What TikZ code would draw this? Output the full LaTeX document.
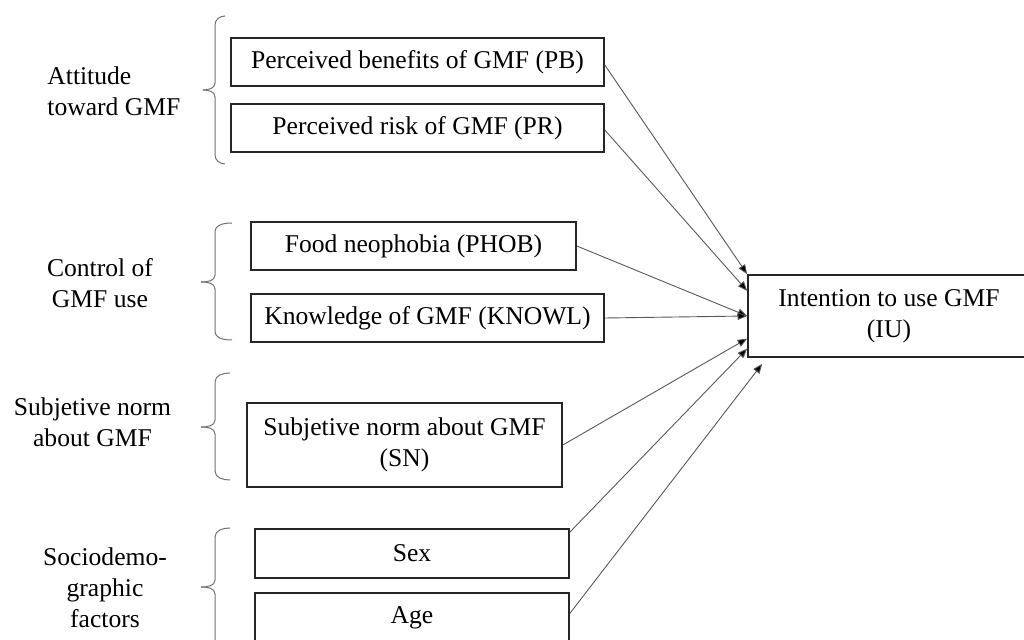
\documentclass[tikz,border=0pt]{standalone}
\usepackage{fontspec}
\setmainfont{Liberation Serif}
\usetikzlibrary{arrows.meta,calc}
\newcommand\gbrace[6]{% tip x, vertical x, end x, top, mid, bottom
  \draw[brc] (#3,#4) to[out=180,in=90] (#2,#4+9) -- (#2,#5-7) to[out=-90,in=0] (#1,#5);
  \draw[brc] (#1,#5) to[out=0,in=90] (#2,#5+7) -- (#2,#6-9) to[out=-90,in=180] (#3,#6);
}
\tikzset{
  txt/.style={font=\fontsize{12.8}{15.5}\selectfont, align=center, inner sep=0pt},
  box/.style={txt, draw=black!85, line width=0.8pt},
  wh/.style 2 args={minimum width=#1*0.5pt, minimum height=#2*0.5pt},
  brc/.style={draw=black!55, line width=0.5pt},
  conn/.style={draw=black!65, line width=0.45pt, -{Triangle[length=4.8pt,width=3.8pt,fill=black]}}
}
\begin{document}
\begin{tikzpicture}[x=0.5pt,y=-0.5pt]
\useasboundingbox (0,0) rectangle (1024,640);
\clip (0,0) rectangle (1024,640);
\fill[white] (0,0) rectangle (1024,640);

% boxes
\node[box, wh={373}{48}] (PB) at (417.5,62) {Perceived benefits of GMF (PB)};
\node[box, wh={373}{48}] (PR) at (417.5,128) {Perceived risk of GMF (PR)};
\node[box, wh={325}{48}] (PHOB) at (413.5,246) {Food neophobia (PHOB)};
\node[box, wh={353}{48}] (KNOWL) at (427.5,318) {Knowledge of GMF (KNOWL)};
\node[box, wh={315}{84}] (SN) at (404.5,445) {Subjetive norm about GMF\\(SN)};
\node[box, wh={314}{49}] (Sex) at (412,553.5) {Sex};
\node[box, wh={314}{49}] (Age) at (412,617.5) {Age};
\node[box, wh={282}{82}] (IU) at (889,316) {};
\node[txt] (IUt) at (889,316) {Intention to use GMF\\(IU)};

% group labels
\node[txt, anchor=west, align=left] (L1) at (47,91) {Attitude\\toward GMF};
\node[txt] (L2) at (100,283) {Control of\\GMF use};
\node[txt] (L3) at (92.5,422) {Subjetive norm\\about GMF};
\node[txt] (L4) at (105,588) {Sociodemo-\\graphic\\factors};

% braces
\gbrace{203}{215}{225}{16}{90}{164}
\gbrace{201}{215}{232}{223}{282}{340}
\gbrace{201}{215}{230}{373}{427}{480}
\gbrace{201}{215}{230}{528}{587}{660}

% target points on IU
\coordinate (t1) at ($(IU.north west)!0.2!(IU.south west)$);
\coordinate (t3) at ($(IU.north west)!0.77!(IU.south west)$);
\coordinate (t4) at ($(IU.north west)!0.89!(IU.south west)$);
\coordinate (t5) at ([shift={(15,6)}]IU.south west);
\coordinate (sSex) at ([shift={(0,4)}]Sex.north east);

% connectors
\draw[conn] ([shift={(0,3)}]PB.east) -- (IU.north west);
\draw[conn] ([shift={(0,2)}]PR.east) -- (t1);
\draw[conn] (PHOB.east) -- (IU.west);
\draw[conn] (KNOWL.east) -- (IU.west);
\draw[conn] (SN.east) -- (t3);
\draw[conn] (sSex) -- (t4);
\draw[conn] ([shift={(0,-4)}]Age.east) -- (t5);
\end{tikzpicture}
\end{document}
